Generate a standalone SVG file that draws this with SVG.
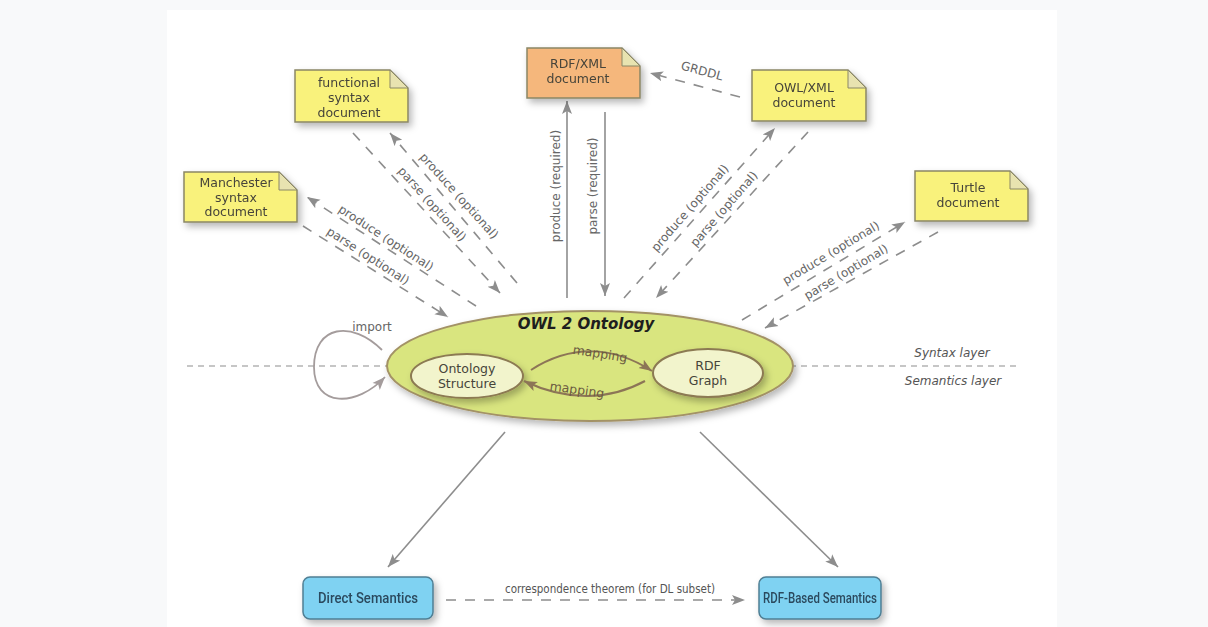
<svg xmlns="http://www.w3.org/2000/svg" width="1208" height="627" viewBox="0 0 1208 627">
  <style>
    .doc { stroke: #8a8766; stroke-width: 1.5; }
    .yellow { fill: #f9f27c; }
    .orange { fill: #f5b77b; }
    .fold { fill: #e8e3b0; stroke: #8a8766; stroke-width: 1; }
    .doc-text { font-family: "DejaVu Sans", sans-serif; font-size: 12.5px; fill: #46443a; text-anchor: middle; }
    .lbl { font-family: "DejaVu Sans", sans-serif; font-size: 12px; fill: #666; text-anchor: middle; }
    .dash { fill: none; stroke: #8d8d8d; stroke-width: 1.6; stroke-dasharray: 10 9; }
    .solid { fill: none; stroke: #8d8d8d; stroke-width: 1.6; }
    .layer { fill: none; stroke: #8d8d8d; stroke-width: 1.2; stroke-dasharray: 6 5; }
    .layer-text { font-family: "DejaVu Sans", sans-serif; font-style: italic; font-size: 12px; fill: #555; text-anchor: middle; }
    .map { fill: none; stroke: #8c7556; stroke-width: 2; }
    .map-text { font-family: "DejaVu Sans", sans-serif; font-size: 12.5px; fill: #6b5a40; text-anchor: middle; }
    .inner { fill: #f2f4cc; stroke: #8c7a52; stroke-width: 2; }
    .inner-text { font-family: "DejaVu Sans", sans-serif; font-size: 12.5px; fill: #46443a; text-anchor: middle; }
    .sem { fill: #7fd2f2; stroke: #4f7f94; stroke-width: 1.5; }
    .sem-text { font-family: Roboto, "Liberation Sans", sans-serif; font-weight: 500; font-size: 14px; fill: #2c4a5e; text-anchor: middle; }
  </style>
  <defs>
    <filter id="shadow" x="-20%" y="-20%" width="150%" height="160%">
      <feDropShadow dx="3" dy="4" stdDeviation="3.5" flood-color="#000" flood-opacity="0.28"/>
    </filter>
    <marker id="arrow" markerUnits="userSpaceOnUse" markerWidth="14" markerHeight="12" refX="13" refY="6" orient="auto">
      <path d="M0 1 L13 6 L0 11 L3 6 Z" fill="#8d8d8d"/>
    </marker>
    <marker id="arrow-brown" markerUnits="userSpaceOnUse" markerWidth="14" markerHeight="12" refX="13" refY="6" orient="auto">
      <path d="M0 1 L13 6 L0 11 L3 6 Z" fill="#8c7556"/>
    </marker>
    <marker id="arrow-light" markerUnits="userSpaceOnUse" markerWidth="14" markerHeight="12" refX="13" refY="6" orient="auto">
      <path d="M0 1 L13 6 L0 11 L3 6 Z" fill="#a49c9c"/>
    </marker>
  </defs>

  <!-- page background and white panel -->
  <rect x="0" y="0" width="1208" height="627" fill="#f8f9fa"/>
  <rect x="167" y="10" width="890" height="617" fill="#ffffff"/>

  <!-- syntax / semantics layer separator -->
  <g id="layers">
    <line class="layer" x1="187" y1="366" x2="390" y2="366"/>
    <line class="layer" x1="790" y1="366" x2="1017" y2="366"/>
    <text class="layer-text" x="952" y="357">Syntax layer</text>
    <text class="layer-text" x="953" y="385">Semantics layer</text>
  </g>

  <g id="connectors">
    <!-- Manchester syntax -->
    <line class="dash" x1="476" y1="306" x2="307" y2="197" marker-end="url(#arrow)"/>
    <line class="dash" x1="303" y1="226" x2="448" y2="317" marker-end="url(#arrow)"/>
    <text class="lbl" transform="translate(386 238) rotate(33)" y="4">produce (optional)</text>
    <text class="lbl" transform="translate(368 256) rotate(33)" y="4">parse (optional)</text>
    <!-- functional syntax -->
    <line class="dash" x1="517" y1="283" x2="390" y2="133" marker-end="url(#arrow)"/>
    <line class="dash" x1="353" y1="133" x2="500" y2="293" marker-end="url(#arrow)"/>
    <text class="lbl" transform="translate(459 196) rotate(48)" y="4">produce (optional)</text>
    <text class="lbl" transform="translate(432 204) rotate(48)" y="4">parse (optional)</text>
    <!-- RDF/XML -->
    <line class="solid" x1="567" y1="298" x2="567" y2="101" marker-end="url(#arrow)"/>
    <line class="solid" x1="605" y1="112" x2="605" y2="296" marker-end="url(#arrow)"/>
    <text class="lbl" transform="translate(556 186) rotate(-90)" y="4">produce (required)</text>
    <text class="lbl" transform="translate(593 186) rotate(-90)" y="4">parse (required)</text>
    <!-- GRDDL -->
    <line class="dash" x1="740" y1="97" x2="650" y2="73" marker-end="url(#arrow)"/>
    <text class="lbl" transform="translate(702 71) rotate(15)" y="4">GRDDL</text>
    <!-- OWL/XML -->
    <line class="dash" x1="624" y1="298" x2="775" y2="128" marker-end="url(#arrow)"/>
    <line class="dash" x1="808" y1="132" x2="656" y2="298" marker-end="url(#arrow)"/>
    <text class="lbl" transform="translate(690 208) rotate(-49)" y="4">produce (optional)</text>
    <text class="lbl" transform="translate(724 209) rotate(-49)" y="4">parse (optional)</text>
    <!-- Turtle -->
    <line class="dash" x1="742" y1="320" x2="905" y2="222" marker-end="url(#arrow)"/>
    <line class="dash" x1="938" y1="232" x2="765" y2="328" marker-end="url(#arrow)"/>
    <text class="lbl" transform="translate(831 253) rotate(-31)" y="4">produce (optional)</text>
    <text class="lbl" transform="translate(846 272) rotate(-31)" y="4">parse (optional)</text>
    <!-- import self-loop -->
    <path d="M382 350 C352 320 314 325 314 367 C314 408 357 407 385 377" fill="none" stroke="#a49c9c" stroke-width="1.8" marker-end="url(#arrow-light)"/>
    <text class="lbl" x="372" y="331" fill="#555">import</text>
    <!-- semantics -->
    <line class="solid" x1="505" y1="432" x2="388" y2="567" marker-end="url(#arrow)"/>
    <line class="solid" x1="700" y1="432" x2="838" y2="567" marker-end="url(#arrow)"/>
    <line class="dash" x1="446" y1="600" x2="745" y2="600" marker-end="url(#arrow)"/>
    <text x="610" y="593" font-family="DejaVu Sans Condensed, DejaVu Sans, sans-serif" font-size="11.5" fill="#555" text-anchor="middle">correspondence theorem (for DL subset)</text>
  </g>

  <!-- document nodes -->
  <g id="functional-doc" filter="url(#shadow)">
    <path class="doc yellow" d="M295 70 H390 L408 88 V122 H295 Z"/>
    <path class="fold" d="M390 70 V88 H408 Z"/>
    <text class="doc-text" x="349" y="87">functional</text>
    <text class="doc-text" x="349" y="102">syntax</text>
    <text class="doc-text" x="349" y="117">document</text>
  </g>
  <g id="manchester-doc" filter="url(#shadow)">
    <path class="doc yellow" d="M184 172 H279 L297 190 V222 H184 Z"/>
    <path class="fold" d="M279 172 V190 H297 Z"/>
    <text class="doc-text" x="236" y="187">Manchester</text>
    <text class="doc-text" x="236" y="202">syntax</text>
    <text class="doc-text" x="236" y="216">document</text>
  </g>
  <g id="rdfxml-doc" filter="url(#shadow)">
    <path class="doc orange" d="M527 48 H622 L640 66 V98 H527 Z"/>
    <path class="fold" d="M622 48 V66 H640 Z"/>
    <text class="doc-text" x="578" y="68">RDF/XML</text>
    <text class="doc-text" x="578" y="83">document</text>
  </g>
  <g id="owlxml-doc" filter="url(#shadow)">
    <path class="doc yellow" d="M752 70 H848 L866 88 V121 H752 Z"/>
    <path class="fold" d="M848 70 V88 H866 Z"/>
    <text class="doc-text" x="804" y="92">OWL/XML</text>
    <text class="doc-text" x="804" y="107">document</text>
  </g>
  <g id="turtle-doc" filter="url(#shadow)">
    <path class="doc yellow" d="M915 171 H1010 L1028 189 V221 H915 Z"/>
    <path class="fold" d="M1010 171 V189 H1028 Z"/>
    <text class="doc-text" x="968" y="192">Turtle</text>
    <text class="doc-text" x="968" y="207">document</text>
  </g>

  <!-- OWL 2 ontology -->
  <g id="owl2-ontology">
    <ellipse cx="590" cy="366" rx="203" ry="55" fill="#d9e57f" stroke="#a39266" stroke-width="2" filter="url(#shadow)"/>
    <text x="586" y="329" font-family="DejaVu Sans, sans-serif" font-weight="bold" font-style="italic" font-size="15" fill="#1e1e1e" text-anchor="middle">OWL 2 Ontology</text>
  </g>
  <g id="ontology-structure">
    <ellipse class="inner" cx="467" cy="376" rx="56" ry="22" filter="url(#shadow)"/>
    <text class="inner-text" x="467" y="373">Ontology</text>
    <text class="inner-text" x="467" y="388">Structure</text>
  </g>
  <g id="rdf-graph">
    <ellipse class="inner" cx="708" cy="373" rx="55" ry="24" filter="url(#shadow)"/>
    <text class="inner-text" x="708" y="370">RDF</text>
    <text class="inner-text" x="708" y="385">Graph</text>
  </g>
  <g id="mappings">
    <path class="map" d="M531 370 C570 345 612 345 652 371" marker-end="url(#arrow-brown)"/>
    <path class="map" d="M645 381 C610 400 568 402 524 381" marker-end="url(#arrow-brown)"/>
    <text class="map-text" transform="translate(600 354) rotate(9)" y="4">mapping</text>
    <text class="map-text" transform="translate(577 390) rotate(8)" y="4">mapping</text>
  </g>

  <!-- semantics nodes -->
  <g id="direct-semantics" filter="url(#shadow)">
    <rect class="sem" x="303" y="577" width="130" height="42" rx="7"/>
    <text class="sem-text" x="368" y="603" textLength="100" lengthAdjust="spacingAndGlyphs">Direct Semantics</text>
  </g>
  <g id="rdf-based-semantics" filter="url(#shadow)">
    <rect class="sem" x="759" y="577" width="122" height="42" rx="7"/>
    <text class="sem-text" x="820" y="603" textLength="114" lengthAdjust="spacingAndGlyphs">RDF-Based Semantics</text>
  </g>
</svg>
